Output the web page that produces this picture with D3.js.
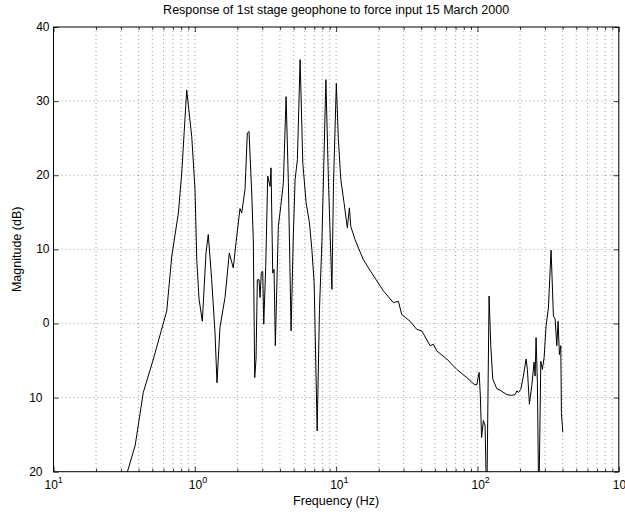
<!DOCTYPE html>
<html>
<head>
<meta charset="utf-8">
<script src="https://cdn.jsdelivr.net/npm/d3@7"></script>
<style>
  body { margin: 0; background: #fff; }
  svg { display: block; font-family: "Liberation Sans", Helvetica, Arial, sans-serif; }
  .grid line { stroke: #777; stroke-width: 0.7; stroke-dasharray: 1,3; }
  .tick-label { font-size: 12px; fill: #000; }
</style>
</head>
<body>
<svg id="chart" width="625" height="512"></svg>
<script>
    // frequency (Hz) and magnitude (dB)
    var freq = [0.306, 0.378, 0.432, 0.509, 0.633, 0.687, 0.765, 0.808, 0.876, 0.951,
      1.003, 1.032, 1.071, 1.130, 1.200, 1.245, 1.316, 1.389, 1.435, 1.507,
      1.635, 1.754, 1.871, 1.956, 2.087, 2.146, 2.266, 2.352, 2.418, 2.527,
      2.593, 2.654, 2.711, 2.769, 2.847, 2.894, 2.955, 3.024, 3.074, 3.175,
      3.280, 3.406, 3.462, 3.559, 3.636, 3.713, 3.899, 4.056, 4.232, 4.423,
      4.592, 4.799, 4.982, 5.123, 5.319, 5.558, 5.810, 6.131, 6.472, 6.731,
      6.988, 7.339, 7.621, 7.925, 8.460, 8.828, 9.334, 9.580, 10.03, 10.36,
      10.78, 11.37, 12.00, 12.41, 12.69, 13.61, 15.58, 17.87, 21.58, 25.41,
      27.56, 29.14, 33.35, 37.20, 40.35, 46.19, 48.74, 51.52, 60.66, 71.38,
      84.01, 94.61, 98.87, 102.7, 104.8, 106.9, 110.1, 113.2, 116.3, 120.8,
      124.2, 128.3, 137.0, 144.5, 161.2, 174.9, 184.6, 189.8, 194.7, 202.5,
      211.3, 220.8, 225.5, 233.0, 242.3, 251.5, 255.7, 259.8, 265.5, 271.6,
      280.6, 287.9, 296.2, 305.9, 317.6, 331.8, 344.6, 354.3, 364.2, 371.9,
      379.9, 388.7, 392.5, 401.6];
    var mag = [-22.4, -16.5, -9.3, -4.8, 1.7, 9.1, 14.9, 20.3, 31.5, 25.2,
      18.1, 8.6, 3.3, 0.3, 9.5, 12.0, 5.9, -1.2, -8.0, -0.5,
      3.5, 9.5, 7.5, 10.9, 15.5, 14.9, 18.1, 25.7, 25.9, 17.6,
      11.3, -7.3, -4.8, 5.9, 5.9, 3.5, 6.9, 7.0, -0.1, 7.7,
      19.9, 18.5, 21.0, 6.8, 7.3, -3.0, 13.1, 15.8, 19.0, 30.6,
      19.0, -1.0, 12.2, 19.4, 22.1, 35.6, 21.6, 16.3, 13.6, 10.0,
      5.5, -14.5, 1.9, 10.9, 32.9, 19.0, 4.6, 19.0, 32.4, 25.0,
      19.5, 16.3, 12.9, 15.6, 13.1, 11.3, 8.6, 6.8, 4.4, 2.8,
      3.0, 1.2, 0.3, -0.8, -1.0, -3.0, -2.8, -3.7, -4.8, -6.2,
      -7.3, -8.2, -8.3, -6.6, -9.8, -15.4, -13.1, -13.8, -25, 3.7,
      -3.0, -7.5, -8.8, -9.0, -9.6, -9.7, -9.6, -9.1, -9.3, -8.9,
      -7.1, -4.8, -6.2, -10.9, -8.4, -5.2, -7.1, -1.9, -8.0, -25,
      -5.1, -6.2, -4.6, -0.3, 2.1, 9.9, 1.0, 0.6, -3.0, 0.3,
      -4.2, -3.0, -12.0, -14.7];

    var xDecades = [0.1, 1, 10, 100, 1000];
    var xTickExp = ["1", "0", "1", "2", "3"];
    var yTicks = [-20, -10, 0, 10, 20, 30, 40];
    var yTickLabels = ["20", "10", "0", "10", "20", "30", "40"];

    var svg = d3.select("#chart"),
        plotL = 53.5, plotR = 618.8, plotT = 27, plotB = 471.7;

    var x = d3.scaleLog().domain([0.1, 1000]).range([plotL, plotR]);
    var y = d3.scaleLinear().domain([-20, 40]).range([plotB, plotT]);

    var minor = x.ticks().filter(function(d) { return xDecades.indexOf(d) < 0; });

    // dotted grid
    var grid = svg.append("g").attr("class", "grid");
    grid.selectAll("line.v")
      .data(x.ticks())
      .enter().append("line")
      .attr("x1", function(d) { return x(d); })
      .attr("x2", function(d) { return x(d); })
      .attr("y1", plotT).attr("y2", plotB);
    grid.selectAll("line.h")
      .data(yTicks.slice(1, -1))
      .enter().append("line")
      .attr("x1", plotL).attr("x2", plotR)
      .attr("y1", function(d) { return y(d); })
      .attr("y2", function(d) { return y(d); });

    // ticks on all four sides, pointing inward
    function addAxis(axis, tx, ty) {
      var g = svg.append("g").attr("transform", "translate(" + tx + "," + ty + ")").call(axis);
      g.select(".domain").remove();
      g.selectAll("text").remove();
      g.selectAll("line").attr("stroke", "#000").attr("stroke-width", 0.8);
    }
    addAxis(d3.axisBottom(x).tickValues(xDecades).tickSize(-5), 0, plotB);
    addAxis(d3.axisBottom(x).tickValues(minor).tickSize(-3), 0, plotB);
    addAxis(d3.axisTop(x).tickValues(xDecades).tickSize(-5), 0, plotT);
    addAxis(d3.axisTop(x).tickValues(minor).tickSize(-3), 0, plotT);
    addAxis(d3.axisLeft(y).tickValues(yTicks).tickSize(-5), plotL, 0);
    addAxis(d3.axisRight(y).tickValues(yTicks).tickSize(-5), plotR, 0);

    // clipped data line
    svg.append("clipPath").attr("id", "plot-clip")
      .append("rect")
      .attr("x", plotL).attr("y", plotT)
      .attr("width", plotR - plotL).attr("height", plotB - plotT);

    var line = d3.line()
      .x(function(d, i) { return x(freq[i]); })
      .y(function(d) { return y(d); });

    svg.append("path")
      .datum(mag)
      .attr("clip-path", "url(#plot-clip)")
      .attr("fill", "none")
      .attr("stroke", "#000")
      .attr("stroke-width", 1)
      .attr("stroke-linejoin", "round")
      .attr("d", line);

    // frame
    svg.append("rect")
      .attr("x", plotL).attr("y", plotT)
      .attr("width", plotR - plotL).attr("height", plotB - plotT)
      .attr("fill", "none").attr("stroke", "#000").attr("stroke-width", 1);

    // x tick labels, 10 with a raised exponent
    var xl = svg.selectAll("text.xl")
      .data(xDecades)
      .enter().append("text")
      .attr("class", "tick-label")
      .attr("x", function(d, i) { return x(d) - (i === 0 ? 9 : 6); })
      .attr("y", plotB + 17);
    xl.append("tspan").text("10");
    xl.append("tspan")
      .attr("dy", -6).attr("font-size", "9px")
      .text(function(d, i) { return xTickExp[i]; });

    // y tick labels
    svg.selectAll("text.yl")
      .data(yTicks)
      .enter().append("text")
      .attr("class", "tick-label")
      .attr("text-anchor", "end")
      .attr("x", function(d) { return d < 0 ? plotL - 11 : plotL - 4; })
      .attr("y", function(d) { return y(d) + 4; })
      .text(function(d, i) { return yTickLabels[i]; });

    svg.append("text")
      .attr("x", (plotL + plotR) / 2).attr("y", 14)
      .attr("text-anchor", "middle")
      .attr("font-size", "12.5px")
      .text("Response of 1st stage geophone to force input 15 March 2000");

    svg.append("text")
      .attr("x", (plotL + plotR) / 2).attr("y", 505)
      .attr("text-anchor", "middle")
      .attr("font-size", "12.5px")
      .text("Frequency (Hz)");

    svg.append("text")
      .attr("transform", "translate(21," + ((plotT + plotB) / 2) + ") rotate(-90)")
      .attr("text-anchor", "middle")
      .attr("font-size", "12.5px")
      .text("Magnitude (dB)");
</script>
</body>
</html>
